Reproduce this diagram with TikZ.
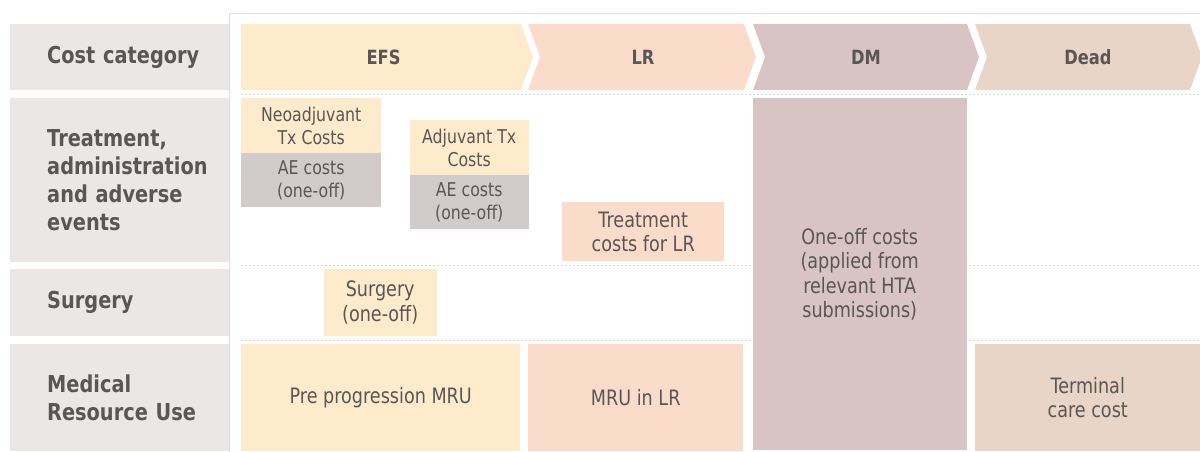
\documentclass[tikz,border=0pt]{standalone}
\usepackage{fontspec}
\setmainfont{DejaVu Sans}[FakeStretch=0.83]
\definecolor{cream}{RGB}{254,235,204}
\definecolor{peach}{RGB}{251,220,203}
\definecolor{dmc}{RGB}{217,196,197}
\definecolor{deadc}{RGB}{232,213,199}
\definecolor{aegray}{RGB}{210,203,203}
\definecolor{leftgray}{RGB}{236,231,231}
\definecolor{txt}{RGB}{89,86,86}
\definecolor{gridc}{RGB}{218,216,216}
\definecolor{framec}{RGB}{228,218,222}
\newcommand\lblfont{\fontsize{23.3}{28.3}\selectfont\bfseries}
\newcommand\headfont{\fontsize{19.6}{22}\selectfont\bfseries}
\newcommand\smallfont{\fontsize{19}{22.5}\selectfont}
\newcommand\boxfont{\fontsize{21.2}{24.5}\selectfont}
\tikzset{
  lcell/.style={fill=leftgray, anchor=north west, inner xsep=37pt, inner ysep=0pt,
    minimum width=219pt, text width=145pt, align=left, font=\lblfont, text=txt},
  cell/.style={anchor=north west, inner sep=0pt, align=center, text=txt, font=\boxfont},
  small/.style={cell, font=\smallfont},
  head/.style={font=\headfont, text=txt},
  gridline/.style={draw=gridc, line width=0.7pt, dash pattern=on 2pt off 2pt},
}
\begin{document}
\begin{tikzpicture}[x=1pt,y=-1pt]
\useasboundingbox (0,0) rectangle (1200,452);
% frame
\draw[framec, line width=1pt] (229.5,452) -- (229.5,13.5) -- (1200,13.5);
% dotted grid
\foreach \yy in {94.5,265,340.5} \draw[gridline] (241,\yy) -- (1200,\yy);
% left column
\node[lcell, minimum height=66pt] (lcat) at (10,24) {\mbox{Cost category}};
\node[lcell, minimum height=164pt] (ltreat) at (10,98) {Treatment,\\\mbox{administration}\\\mbox{and adverse}\\events};
\node[lcell, minimum height=67pt] (lsurg) at (10,269) {Surgery};
\node[lcell, minimum height=107pt] (lmru) at (10,344) {Medical\\\mbox{Resource Use}};
% header chevrons
\fill[cream] (241,24) -- (521,24) -- (533,57) -- (521,90) -- (241,90) -- cycle;
\fill[peach] (528,24) -- (744,24) -- (756,57) -- (744,90) -- (528,90) -- (540,57) -- cycle;
\fill[dmc] (753,24) -- (967,24) -- (979,57) -- (967,90) -- (753,90) -- (765,57) -- cycle;
\fill[deadc] (975,24) -- (1190,24) -- (1202,57) -- (1190,90) -- (975,90) -- (987,57) -- cycle;
\node[head] (hefs) at (383.5,57) {EFS};
\node[head] (hlr) at (643,57) {LR};
\node[head] (hdm) at (866,57) {DM};
\node[head] (hdead) at (1088,57) {Dead};
% cells
\node[small, fill=cream, minimum width=140pt, minimum height=55pt] (neo) at (241,98) {Neoadjuvant\\Tx Costs};
\node[small, fill=aegray, minimum width=140pt, minimum height=54pt] (neoae) at (241,153) {AE costs\\(one-off)};
\node[small, fill=cream, minimum width=119pt, minimum height=55pt] (adj) at (409.5,120) {Adjuvant Tx\\Costs};
\node[small, fill=aegray, minimum width=119pt, minimum height=54pt] (adjae) at (409.5,175) {AE costs\\(one-off)};
\node[cell, fill=peach, minimum width=162pt, minimum height=59pt] (trlr) at (562,202) {Treatment\\costs for LR};
\node[cell, fill=dmc, minimum width=214pt, minimum height=352pt] (dm) at (752.5,98) {One-off costs\\(applied from\\relevant HTA\\submissions)};
\node[cell, fill=cream, minimum width=113pt, minimum height=67pt] (surg) at (323.5,269) {Surgery\\(one-off)};
\node[cell, fill=cream, minimum width=279pt, minimum height=107pt] (mru1) at (241,344) {Pre progression MRU};
\node[cell, fill=peach, minimum width=215pt, minimum height=107pt] (mru2) at (528,344) {MRU in LR};
\node[cell, fill=deadc, minimum width=226pt, minimum height=107pt] (term) at (974.5,344) {Terminal\\care cost};
\end{tikzpicture}
\end{document}
